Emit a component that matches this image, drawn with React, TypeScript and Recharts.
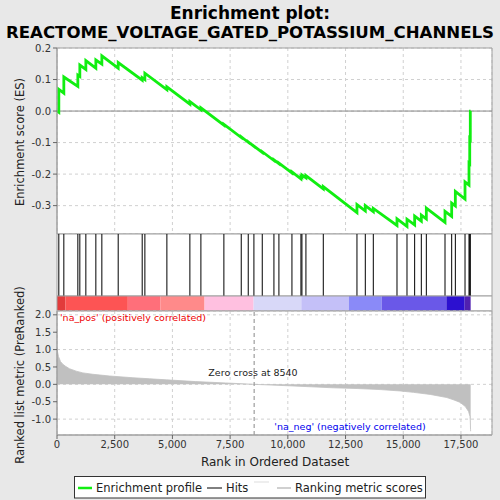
import React from 'react';
import {
  ComposedChart,
  Line,
  Area,
  XAxis,
  YAxis,
  CartesianGrid,
  ReferenceLine,
  ReferenceArea,
} from 'recharts';

const X_MAX = 18845;
const xTicks = [0, 2500, 5000, 7500, 10000, 12500, 15000, 17500];
const esTicks = [-0.3, -0.2, -0.1, 0, 0.1, 0.2];
const metricTicks = [-1, -0.5, 0, 0.5, 1, 1.5, 2];
const ZERO_CROSS = 8540;

const esRanks = [
  0, 79, 79, 296, 296, 903, 903, 989, 989, 1250, 1250, 1683, 1683, 1943, 1943,
  2651, 2651, 3691, 3691, 3807, 3807, 4760, 4760, 5757, 5757, 6234, 6234, 7230, 7230,
  7982, 7982, 8285, 8285, 8531, 8531, 8892, 8892, 9398, 9398, 9614, 9614, 10178, 10178,
  10568, 10568, 10611, 10611, 10784, 10784, 11536, 11536, 12995, 12995, 13356, 13356,
  13703, 13703, 14729, 14729, 15162, 15162, 15494, 15494, 15783, 15783, 16000, 16000,
  16809, 16809, 17098, 17098, 17257, 17257, 17676, 17676, 17849, 17849, 17880, 17880,
  17905, 17905, 17920,
];
const esValues = [
  0, -0.004, 0.069, 0.057, 0.108, 0.078, 0.114, 0.11, 0.146, 0.132, 0.16, 0.136, 0.162,
  0.149, 0.175, 0.136, 0.154, 0.098, 0.106, 0.1, 0.12, 0.068, 0.077, 0.022, 0.03, 0.004,
  0.01, -0.045, -0.042, -0.084, -0.082, -0.099, -0.098, -0.112, -0.111, -0.131, -0.129,
  -0.157, -0.155, -0.167, -0.165, -0.196, -0.193, -0.215, -0.208, -0.21, -0.203, -0.212,
  -0.205, -0.247, -0.24, -0.322, -0.297, -0.317, -0.3, -0.319, -0.309, -0.363, -0.342,
  -0.366, -0.343, -0.361, -0.333, -0.349, -0.33, -0.342, -0.308, -0.353, -0.318, -0.334,
  -0.292, -0.301, -0.255, -0.279, -0.225, -0.235, -0.165, -0.167, -0.087, -0.089, 0.0, 0,
];

const hitRanks = [
  79, 296, 903, 989, 1250, 1683, 1943, 2651, 3691, 3807, 4760, 5757, 6234, 7230, 7982,
  8285, 8531, 8892, 9398, 9614, 10178, 10568, 10611, 10784, 11536, 12995, 13356, 13703,
  14729, 15162, 15494, 15783, 16000, 16809, 17098, 17257, 17676, 17849, 17880, 17905,
];

const metricRanks = [
  0, 20, 65, 150, 250, 370, 540, 830, 1120, 1550, 2280, 3290, 4015, 4740, 6000, 7300,
  8540, 10000, 11000, 11970, 13000, 14000, 14865, 15440, 16170, 16890, 17200, 17470,
  17690, 17830, 17890, 17905, 17915, 17920,
];
const metricValues = [
  1.05, 0.95, 0.8, 0.66, 0.58, 0.52, 0.45, 0.38, 0.33, 0.29, 0.24, 0.19, 0.16, 0.13, 0.08,
  0.04, 0, -0.04, -0.07, -0.1, -0.12, -0.15, -0.19, -0.23, -0.29, -0.38, -0.45, -0.52,
  -0.64, -0.78, -0.92, -1.05, -1.3, -1.35,
];

const bandStarts = [0, 368, 3068, 4486, 6393, 8516, 10584, 12647, 14064, 16868, 17661];
const bandEnds = [368, 3068, 4486, 6393, 8516, 10584, 12647, 14064, 16868, 17661, 17920];
const bandColors = [
  '#e23b3b', '#fd5454', '#ff6f7a', '#ff8a8a', '#ffc0e0', '#d8d8f8', '#c4c0f8',
  '#8a8af8', '#6a58e8', '#2c10d0', '#5020b0',
];

const esData = esRanks.map((r, i) => ({ rank: r, es: esValues[i] }));
const metricData = metricRanks.map((r, i) => ({ rank: r, metric: metricValues[i] }));
const hitData = hitRanks.map((r) => ({ rank: r, base: 0 }));

const FONT = "'DejaVu Sans', sans-serif";
const FRAME = '#a0a0a0';
const GRID = '#d0d0d0';
const ES_DOMAIN: [number, number] = [-0.39, 0.2];
const M_DOMAIN: [number, number] = [-1.457, 2.11];

const layer: React.CSSProperties = { position: 'absolute', top: 0, left: 0 };
const tickStyle = { fontSize: 10, fill: '#333', fontFamily: FONT };

export default function App() {
  return (
    <div style={{ position: 'absolute', top: 0, left: 0, width: 500, height: 500, background: '#e8e8e8', fontFamily: FONT }}>
      {/* ES panel */}
      <div style={layer}>
        <ComposedChart width={500} height={500} data={esData} margin={{ top: 48, right: 8, bottom: 266, left: 0 }}>
          <CartesianGrid fill="#ffffff" stroke={GRID} strokeDasharray="3 3" />
          <XAxis dataKey="rank" type="number" domain={[0, X_MAX]} ticks={xTicks} hide allowDataOverflow />
          <YAxis type="number" domain={ES_DOMAIN} ticks={esTicks} width={57} allowDataOverflow
            tickFormatter={(v: number) => v.toFixed(1)} tick={tickStyle} tickSize={4} tickMargin={2}
            axisLine={{ stroke: FRAME }} tickLine={{ stroke: '#666' }} />
          <ReferenceLine y={0} stroke="#888" strokeWidth={1} />
          <ReferenceArea x1={0} x2={X_MAX} y1={ES_DOMAIN[0]} y2={ES_DOMAIN[1]} fill="none" stroke={FRAME} ifOverflow="visible" />
          <Line dataKey="es" type="linear" stroke="#11ee11" strokeWidth={2.8} dot={false} isAnimationActive={false} />
        </ComposedChart>
      </div>
      {/* Hits panel */}
      <div style={layer}>
        <ComposedChart width={500} height={500} data={hitData} margin={{ top: 234, right: 8, bottom: 204, left: 57 }}>
          <CartesianGrid fill="#ffffff" horizontal={false} vertical={false} />
          <XAxis dataKey="rank" type="number" domain={[0, X_MAX]} hide allowDataOverflow />
          <YAxis type="number" domain={[0, 1]} hide allowDataOverflow />
          <Line dataKey="base" stroke="none" dot={false} isAnimationActive={false} />
          {hitRanks.map((h, i) => (
            <ReferenceLine key={i} x={h} stroke="#000" strokeWidth={1} />
          ))}
          <ReferenceArea x1={0} x2={X_MAX} y1={0} y2={1} fill="none" stroke={FRAME} ifOverflow="visible" />
        </ComposedChart>
      </div>
      {/* Color band */}
      <div style={layer}>
        <ComposedChart width={500} height={500} data={hitData} margin={{ top: 296, right: 8, bottom: 189, left: 57 }}>
          <CartesianGrid fill="#ffffff" horizontal={false} vertical={false} />
          <XAxis dataKey="rank" type="number" domain={[0, X_MAX]} hide allowDataOverflow />
          <YAxis type="number" domain={[0, 1]} hide allowDataOverflow />
          <Line dataKey="base" stroke="none" dot={false} isAnimationActive={false} />
          {bandStarts.map((s, i) => (
            <ReferenceArea key={i} x1={s} x2={bandEnds[i]} y1={0} y2={1} fill={bandColors[i]} fillOpacity={1} stroke="none" />
          ))}
          <ReferenceArea x1={0} x2={X_MAX} y1={0} y2={1} fill="none" stroke={FRAME} ifOverflow="visible" />
        </ComposedChart>
      </div>
      {/* Ranked metric panel */}
      <div style={layer}>
        <ComposedChart width={500} height={500} data={metricData} margin={{ top: 311, right: 8, bottom: 35, left: 0 }}>
          <CartesianGrid fill="#ffffff" stroke={GRID} strokeDasharray="3 3" />
          <XAxis dataKey="rank" type="number" domain={[0, X_MAX]} ticks={xTicks} allowDataOverflow height={30}
            tickFormatter={(v: number) => v.toLocaleString('en-US')} tick={tickStyle} tickSize={4} tickMargin={2}
            axisLine={{ stroke: FRAME }} tickLine={{ stroke: '#666' }} />
          <YAxis type="number" domain={M_DOMAIN} ticks={metricTicks} width={57} allowDataOverflow
            tickFormatter={(v: number) => v.toFixed(1)} tick={tickStyle} tickSize={4} tickMargin={2}
            axisLine={{ stroke: FRAME }} tickLine={{ stroke: '#666' }} />
          <Area dataKey="metric" type="linear" fill="#c0c0c0" fillOpacity={1} stroke="#c0c0c0" strokeWidth={0.8} isAnimationActive={false} />
          <ReferenceLine x={ZERO_CROSS} stroke="#888" strokeDasharray="4 3" />
          <ReferenceArea x1={0} x2={X_MAX} y1={M_DOMAIN[0]} y2={M_DOMAIN[1]} fill="none" stroke={FRAME} ifOverflow="visible" />
        </ComposedChart>
      </div>
      {/* Texts */}
      <svg width={500} height={500} style={layer}>
        <text x={250} y={19} textAnchor="middle" fontSize={17} fontWeight="bold" fill="#000" fontFamily={FONT}>Enrichment plot:</text>
        <text x={250} y={38} textAnchor="middle" fontSize={16} fontWeight="bold" fill="#000" fontFamily={FONT}
          textLength={488} lengthAdjust="spacingAndGlyphs">REACTOME_VOLTAGE_GATED_POTASSIUM_CHANNELS</text>
        <text transform="translate(24,142) rotate(-90)" textAnchor="middle" fontSize={11.5} fill="#222" fontFamily={FONT}>Enrichment score (ES)</text>
        <text transform="translate(24,375) rotate(-90)" textAnchor="middle" fontSize={11.5} fill="#222" fontFamily={FONT}>Ranked list metric (PreRanked)</text>
        <text x={275} y={466} textAnchor="middle" fontSize={12} fill="#222" fontFamily={FONT}>Rank in Ordered Dataset</text>
        <text x={60} y={321} fontSize={9.5} fill="#ee0000" fontFamily={FONT}>'na_pos' (positively correlated)</text>
        <text x={350} y={430} textAnchor="middle" fontSize={9.5} fill="#0000ee" fontFamily={FONT}>'na_neg' (negatively correlated)</text>
        <text x={253} y={376} textAnchor="middle" fontSize={9.5} fill="#222" fontFamily={FONT}>Zero cross at 8540</text>
        {/* Legend */}
        <rect x={74.5} y={476.5} width={351} height={21.5} fill="#ffffff" stroke="#333" />
        <line x1={78} y1={488} x2={92} y2={488} stroke="#11ee11" strokeWidth={2.5} />
        <text x={96} y={492} fontSize={11.5} fill="#222" fontFamily={FONT}>Enrichment profile</text>
        <line x1={207} y1={488} x2={222} y2={488} stroke="#000" strokeWidth={1} />
        <text x={226} y={492} fontSize={11.5} fill="#222" fontFamily={FONT}>Hits</text>
        <line x1={254} y1={482} x2={269} y2={482} stroke="#dddddd" strokeWidth={1} />
        <line x1={277} y1={488} x2={291} y2={488} stroke="#c0c0c0" strokeWidth={1.5} />
        <text x={295} y={492} fontSize={11.5} fill="#222" fontFamily={FONT}>Ranking metric scores</text>
      </svg>
    </div>
  );
}
